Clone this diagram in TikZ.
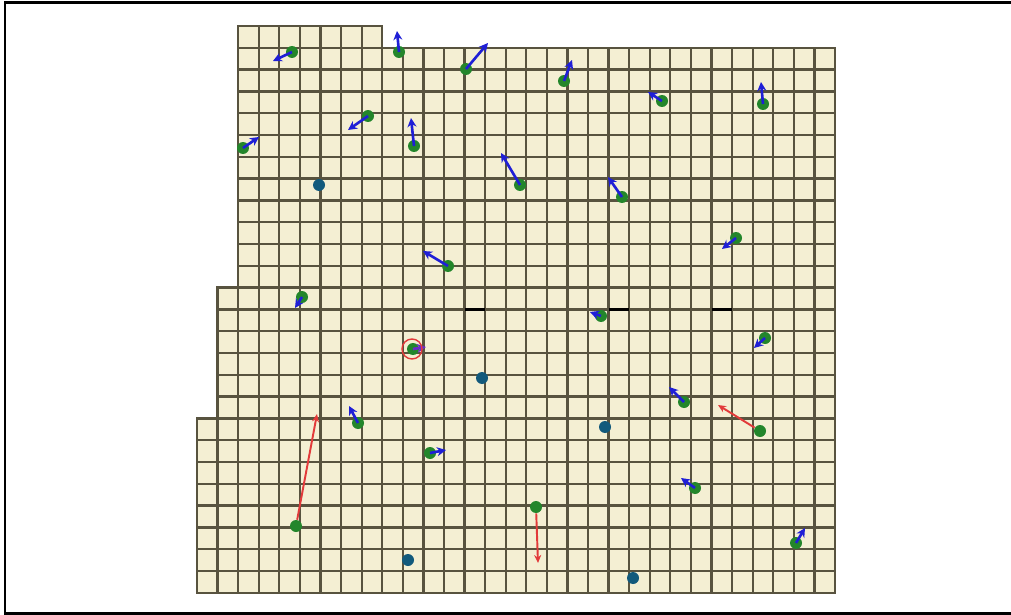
\documentclass[tikz,border=0pt]{standalone}
\usepackage{tikz}
\usetikzlibrary{arrows.meta}
\definecolor{Cream}{HTML}{F4EFD3}
\definecolor{Wall}{HTML}{58533F}
\definecolor{Robot}{HTML}{23862B}
\definecolor{Parked}{HTML}{125A7C}
\definecolor{Blue}{HTML}{1F1FD6}
\definecolor{Violet}{HTML}{6A2AC8}
\definecolor{Danger}{HTML}{E23A3A}

\tikzset{
  cell line/.style={draw=Wall,line width=1.3pt},
  robot/.style={circle,fill=Robot,inner sep=0pt,minimum size=0.24cm},
  parked/.style={circle,fill=Parked,inner sep=0pt,minimum size=0.24cm},
  shortmove/.style={draw=Blue,line width=1.5pt,-{Stealth[length=0.18cm,width=0.18cm]}},
  longmove/.style={draw=Danger,line width=1.1pt,-{Stealth[length=0.16cm,width=0.14cm]}}
}

\begin{document}
\begin{tikzpicture}[x=0.02cm,y=-0.02cm]
        \useasboundingbox (0,0) rectangle (1011,615);
        \draw[line width=1.7pt] (1011,2.5) -- (5,2.5) -- (5,613.5) -- (1011,613.5);
        % floor outline (column x = 197+20.58c, row y = 26+21.8r)
        \coordinate (c2r0) at (238.16,26);
        \coordinate (c9r0) at (382.22,26);
        \coordinate (c9r1) at (382.22,47.8);
        \coordinate (c31r1) at (834.98,47.8);
        \coordinate (c31r26) at (834.98,592.8);
        \coordinate (c0r26) at (197,592.8);
        \coordinate (c0r18) at (197,418.4);
        \coordinate (c1r18) at (217.58,418.4);
        \coordinate (c1r12) at (217.58,287.6);
        \coordinate (c2r12) at (238.16,287.6);
        \fill[Cream] (c2r0) -- (c9r0) -- (c9r1) -- (c31r1) -- (c31r26) -- (c0r26) -- (c0r18) -- (c1r18) -- (c1r12) -- (c2r12) -- cycle;
        \begin{scope}
          \clip (c2r0) -- (c9r0) -- (c9r1) -- (c31r1) -- (c31r26) -- (c0r26) -- (c0r18) -- (c1r18) -- (c1r12) -- (c2r12) -- cycle;
          \foreach \c in {0,...,31} \draw[cell line] ({197+20.58*\c},26) -- ({197+20.58*\c},592.8);
          \foreach \r in {0,...,26} \draw[cell line] (197,{26+21.8*\r}) -- (834.98,{26+21.8*\r});
        \end{scope}
        \draw[cell line] (c2r0) -- (c9r0) -- (c9r1) -- (c31r1) -- (c31r26) -- (c0r26) -- (c0r18) -- (c1r18) -- (c1r12) -- (c2r12) -- cycle;
        % blocked edges
        \draw[line width=1.5pt] (464.54,309.4) -- (485.12,309.4);
        \draw[line width=1.5pt] (608.6,309.4) -- (629.18,309.4);
        \draw[line width=1.5pt] (711.5,309.4) -- (732.08,309.4);
        % robots with their next step
        \foreach \n/\x/\y/\u/\v in {1/292/52/273/61, 2/399/52/397/31, 3/466/69/488/43, 4/564/81/572/60,
            5/662/101/648/92, 6/763/104/761/82, 7/368/116/348/130, 8/243/148/259/137,
            9/414/146/411/118, 10/520/185/501/153, 11/622/197/608/177, 12/736/238/722/249,
            13/448/266/423/251, 14/302/297/295/308, 15/601/316/590/312, 16/765/338/754/348,
            17/684/402/669/387, 18/358/423/349/406, 19/430/453/446/450, 20/695/488/681/478,
            21/796/543/805/528} {
          \node[robot] (r\n) at (\x,\y) {};
          \coordinate (s\n) at (\u,\v);
          \draw[shortmove] (r\n.center) -- (s\n);
        }
        % robots sent far
        \node[robot] (far1) at (296,526) {};
        \node[robot] (far2) at (536,507) {};
        \node[robot] (far3) at (760,431) {};
        \coordinate (goal1) at (317,414);
        \coordinate (goal2) at (538,563);
        \coordinate (goal3) at (718,405);
        \draw[longmove] (far1) -- (goal1);
        \draw[longmove] (far2) -- (goal2);
        \draw[longmove] (far3) -- (goal3);
        % waiting robots
        \node[parked] (p1) at (319,185) {};
        \node[parked] (p2) at (482,378) {};
        \node[parked] (p3) at (605,427) {};
        \node[parked] (p4) at (408,560) {};
        \node[parked] (p5) at (633,578) {};
        % selected robot
        \node[robot] (sel) at (413,349) {};
        \coordinate (selstep) at (426,347);
        \draw[shortmove,draw=Violet] (sel.center) -- (selstep);
        \node[draw=Danger,circle,line width=0.8pt,minimum size=0.4cm,inner sep=0pt] (ring) at (412,349) {};
\end{tikzpicture}
\end{document}
